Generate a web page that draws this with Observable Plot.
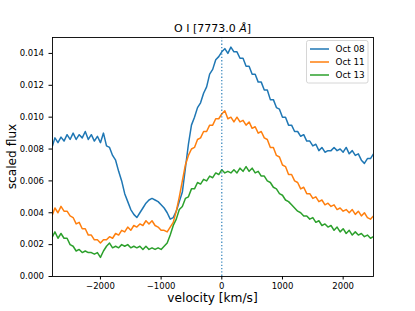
<!DOCTYPE html>
<html><head><meta charset="utf-8">
<script src="https://cdn.jsdelivr.net/npm/d3@7"></script>
<script src="https://cdn.jsdelivr.net/npm/@observablehq/plot@0.6"></script>
<style>body{margin:0;background:#fff} svg{font-family:"DejaVu Sans",sans-serif}</style>
</head><body><div id="chart"></div>
<script>
const velocity = [-2790,-2750,-2700,-2650,-2600,-2550,-2500,-2450,-2400,-2350,
 -2300,-2250,-2200,-2150,-2100,-2050,-2000,-1950,-1900,-1850,
 -1800,-1750,-1700,-1650,-1600,-1550,-1500,-1450,-1400,-1350,
 -1300,-1250,-1200,-1150,-1100,-1050,-1000,-950,-900,-850,
 -800,-750,-700,-650,-600,-550,-500,-450,-400,-350,
 -300,-250,-200,-150,-100,-50,0,50,100,150,
 200,250,300,350,400,450,500,550,600,650,
 700,750,800,850,900,950,1000,1050,1100,1150,
 1200,1250,1300,1350,1400,1450,1500,1550,1600,1650,
 1700,1750,1800,1850,1900,1950,2000,2050,2100,2150,
 2200,2250,2300,2350,2400,2450,2500];
const oct08 = [0.0082,0.0087,0.0084,0.00875,0.0085,0.0089,0.0086,0.0090,0.0086,0.0089,
 0.0087,0.0091,0.0086,0.0089,0.0085,0.0088,0.0084,0.0090,0.0082,0.0081,
 0.0076,0.0073,0.0066,0.0060,0.0052,0.0047,0.0042,0.0039,0.0037,0.0040,
 0.0043,0.0046,0.0048,0.0049,0.0048,0.0047,0.0045,0.0043,0.0040,0.0036,
 0.0037,0.0041,0.0047,0.0053,0.0068,0.0083,0.0095,0.0100,0.0106,0.0109,
 0.0115,0.0119,0.0127,0.0130,0.0136,0.0138,0.0141,0.0143,0.0140,0.0144,
 0.0141,0.0141,0.0137,0.0137,0.0132,0.0132,0.0127,0.0127,0.0122,0.0122,
 0.0117,0.0117,0.0111,0.0111,0.0106,0.0105,0.0100,0.0100,0.0095,0.0095,
 0.0091,0.0091,0.0088,0.0089,0.0085,0.0085,0.0082,0.0083,0.0079,0.0081,
 0.0078,0.0079,0.0079,0.0081,0.0079,0.0080,0.0078,0.0081,0.0077,0.0079,
 0.0076,0.0077,0.0073,0.0071,0.0074,0.0074,0.0077];
const oct11 = [0.0039,0.0043,0.0040,0.0044,0.0041,0.0041,0.0038,0.0037,0.0033,0.0034,
 0.0030,0.0030,0.0026,0.0026,0.0023,0.0023,0.0021,0.0023,0.0023,0.0025,
 0.0024,0.0027,0.0026,0.0029,0.0028,0.0031,0.0029,0.0032,0.0031,0.0033,
 0.0032,0.0035,0.0033,0.0035,0.0032,0.0031,0.0029,0.0029,0.0028,0.0031,
 0.0034,0.0041,0.0050,0.0060,0.0070,0.0076,0.0080,0.0081,0.0086,0.0087,
 0.0091,0.0091,0.0095,0.0095,0.0099,0.0099,0.0102,0.0104,0.0099,0.0100,
 0.0097,0.0100,0.0097,0.0098,0.0095,0.0097,0.0093,0.0094,0.0090,0.0091,
 0.0087,0.0086,0.0081,0.0081,0.0076,0.0075,0.0070,0.0069,0.0064,0.0064,
 0.0060,0.0059,0.0055,0.0056,0.0052,0.0052,0.0049,0.0050,0.0047,0.0048,
 0.0045,0.0046,0.0044,0.0045,0.0042,0.0043,0.0041,0.0042,0.0040,0.0042,
 0.0039,0.0041,0.0038,0.0040,0.0037,0.0036,0.0038];
const oct13 = [0.0025,0.0028,0.0024,0.0027,0.0024,0.0024,0.0020,0.0019,0.0016,0.0017,
 0.0015,0.0016,0.0015,0.0015,0.0014,0.0015,0.0012,0.0016,0.0019,0.0021,
 0.0018,0.0019,0.0018,0.0020,0.0019,0.0020,0.0018,0.0019,0.0018,0.0019,
 0.0017,0.0019,0.0017,0.0018,0.0017,0.0018,0.0017,0.0019,0.0021,0.0026,
 0.0032,0.0036,0.0042,0.0044,0.0049,0.0050,0.0055,0.0055,0.0059,0.0058,
 0.0061,0.0060,0.0063,0.0062,0.0065,0.0064,0.0067,0.0065,0.0066,0.0065,
 0.0067,0.0065,0.0068,0.0066,0.0069,0.0066,0.0068,0.0065,0.0066,0.0063,
 0.0063,0.0060,0.0059,0.0056,0.0055,0.0052,0.0051,0.0048,0.0047,0.0045,
 0.0043,0.0041,0.0040,0.0038,0.0038,0.0036,0.0037,0.0034,0.0035,0.0032,
 0.0033,0.0031,0.0032,0.0029,0.0031,0.0028,0.0030,0.0027,0.0029,0.0026,
 0.0028,0.0026,0.0027,0.0025,0.0026,0.0024,0.0025];
const seriesNames = ["Oct 08","Oct 11","Oct 13"];
const seriesColors = ["#1f77b4","#ff7f0e","#2ca02c"];
const xTicks = [-2000,-1000,0,1000,2000];
const yTicks = [0,0.002,0.004,0.006,0.008,0.010,0.012,0.014];
const titleMain = "O I [7773.0 ";
const titleItalic = "Å";
const titleEnd = "]";
const xLabel = "velocity [km/s]";
const yLabel = "scaled flux";
const restVelocity = [0];

const rows = [];
[oct08, oct11, oct13].forEach((vals, i) => vals.forEach((f, j) => rows.push({v: velocity[j], f, s: seriesNames[i]})));

const W = 415, H = 311, mL = 52, mR = 42, mT = 37, mB = 35;
const chart = Plot.plot({
  width: W, height: H, marginLeft: mL, marginRight: mR, marginTop: mT, marginBottom: mB,
  style: {fontFamily: "DejaVu Sans", fontSize: "8.5px", background: "white", color: "black"},
  x: {domain: [-2790, 2500]},
  y: {domain: [0, 0.015]},
  color: {domain: seriesNames, range: seriesColors},
  marks: [
    Plot.line(rows, {x: "v", y: "f", z: "s", stroke: "s", strokeWidth: 1.5, clip: true}),
    Plot.ruleX(restVelocity, {stroke: "#1f77b4", strokeDasharray: "1.3,2", strokeWidth: 1.1}),
    Plot.frame({stroke: "black", strokeWidth: 0.9}),
    Plot.axisX({ticks: xTicks, tickFormat: d => d < 0 ? "\u2212" + Math.abs(d) : String(d), tickSize: 3.5, tickPadding: 3, label: null}),
    Plot.axisY({ticks: yTicks, tickFormat: d3.format(".3f"), tickSize: 3.5, tickPadding: 5, label: null})
  ]
});
document.getElementById("chart").appendChild(chart);

const svg = d3.select(chart);
const cx = mL + (W - mL - mR) / 2;
const t = svg.append("text").attr("x", cx).attr("y", 32).attr("text-anchor", "middle")
  .attr("font-size", 11).attr("font-family", "DejaVu Sans").attr("fill", "black");
t.append("tspan").text(titleMain);
t.append("tspan").attr("font-style", "italic").text(titleItalic);
t.append("tspan").text(titleEnd);

svg.append("text").attr("x", cx).attr("y", 302).attr("text-anchor", "middle")
  .attr("font-size", 12.2).attr("font-family", "DejaVu Sans").attr("fill", "black").text(xLabel);
svg.append("text").attr("transform", `translate(15.5,${mT + (H - mT - mB) / 2}) rotate(-90)`)
  .attr("text-anchor", "middle").attr("font-size", 12.2).attr("font-family", "DejaVu Sans").attr("fill", "black").text(yLabel);

const lg = svg.append("g");
lg.append("rect").attr("x", 306.5).attr("y", 40.5).attr("width", 61.5).attr("height", 42.5)
  .attr("rx", 2).attr("fill", "white").attr("fill-opacity", 0.8).attr("stroke", "#cccccc").attr("stroke-width", 0.8);
seriesNames.forEach((name, i) => {
  const y = 49 + i * 13;
  lg.append("line").attr("x1", 310).attr("x2", 329).attr("y1", y).attr("y2", y)
    .attr("stroke", seriesColors[i]).attr("stroke-width", 1.5);
  lg.append("text").attr("x", 335.5).attr("y", y).attr("dy", "0.35em").attr("text-anchor", "start")
    .attr("font-size", 8.8).attr("font-family", "DejaVu Sans").attr("fill", "black").text(name);
});
</script></body></html>
